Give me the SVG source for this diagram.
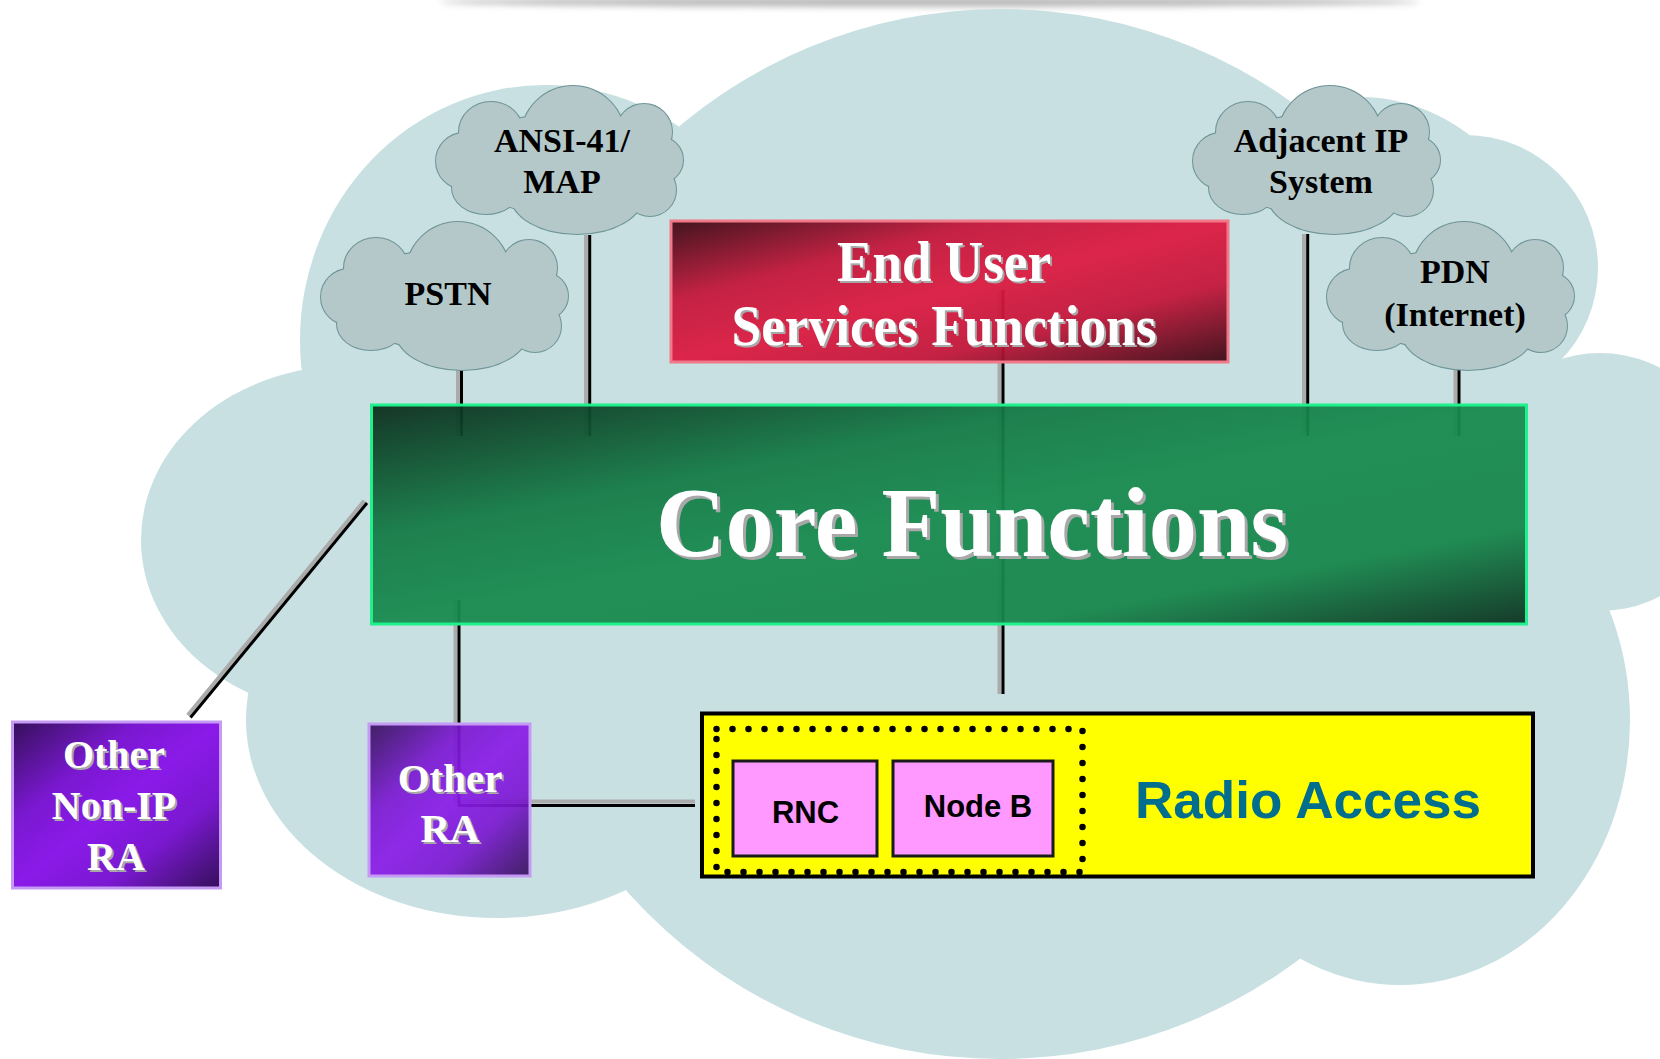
<svg xmlns="http://www.w3.org/2000/svg" xmlns:xlink="http://www.w3.org/1999/xlink" width="1660" height="1059" viewBox="0 0 1660 1059">
<defs>
<style>
.cl{fill:#B4C8CA;stroke:#6E9497;stroke-width:2}
.ci{fill:#B4C8CA;stroke:none}
.ct{font-family:"Liberation Serif","Times New Roman",serif;font-weight:bold;font-size:34px;fill:#000;text-anchor:middle}
.wt{font-family:"Liberation Serif","Times New Roman",serif;font-weight:bold;fill:#fff;text-anchor:middle}
.sh{font-family:"Liberation Serif","Times New Roman",serif;font-weight:bold;fill:#A8A8A8;text-anchor:middle}
.st{font-family:"Liberation Sans",Arial,sans-serif;font-weight:bold;text-anchor:middle}
.ln{fill:none;stroke:#000;stroke-width:3}
.lg{fill:none;stroke:#ABABAB;stroke-width:4}
.bg{fill:#C8E0E2}
</style>
<linearGradient id="gRed" x1="0" y1="0" x2="1" y2="1">
<stop offset="0" stop-color="#3a0812"/>
<stop offset="0.28" stop-color="#c3163a"/>
<stop offset="0.5" stop-color="#dc1a40"/>
<stop offset="0.72" stop-color="#c3163a"/>
<stop offset="1" stop-color="#3a0812"/>
</linearGradient>
<linearGradient id="gGreen" x1="0" y1="0" x2="1" y2="1">
<stop offset="0" stop-color="#0a2c1b"/>
<stop offset="0.3" stop-color="#137a45"/>
<stop offset="0.5" stop-color="#178a4e"/>
<stop offset="0.78" stop-color="#16864b"/>
<stop offset="1" stop-color="#0a301d"/>
</linearGradient>
<linearGradient id="gPurple" x1="0" y1="0" x2="1" y2="1">
<stop offset="0" stop-color="#35105a"/>
<stop offset="0.3" stop-color="#7a18d0"/>
<stop offset="0.5" stop-color="#8a1ae8"/>
<stop offset="0.72" stop-color="#7a18d0"/>
<stop offset="1" stop-color="#35105a"/>
</linearGradient>
<filter id="blur" x="-10%" y="-200%" width="120%" height="500%"><feGaussianBlur stdDeviation="3"/></filter>
<g id="cb">
<circle cx="28" cy="75" r="28"/>
<ellipse cx="55" cy="46" rx="32" ry="30"/>
<circle cx="137" cy="52" r="52"/>
<circle cx="208" cy="46" r="28"/>
<circle cx="224" cy="74" r="23"/>
<circle cx="214" cy="104" r="26"/>
<ellipse cx="141" cy="110" rx="66" ry="38"/>
<ellipse cx="50" cy="102" rx="34" ry="26"/>
<ellipse cx="125" cy="78" rx="100" ry="50"/>
</g>
<g id="cloudShape">
<use xlink:href="#cb" href="#cb" class="cl"/>
<use xlink:href="#cb" href="#cb" class="ci"/>
</g>
</defs>

<rect width="1660" height="1059" fill="#fff"/>
<ellipse cx="930" cy="2" rx="490" ry="5" fill="#777" opacity="0.5" filter="url(#blur)"/>

<g id="background-cloud" class="bg">
<circle cx="1001" cy="509" r="500"/>
<ellipse cx="545" cy="340" rx="245" ry="255"/>
<ellipse cx="1360" cy="330" rx="200" ry="233"/>
<circle cx="1465" cy="268" r="133"/>
<circle cx="1600" cy="482" r="129"/>
<ellipse cx="347" cy="540" rx="206" ry="174"/>
<ellipse cx="497" cy="720" rx="251" ry="198"/>
<circle cx="1000" cy="560" r="499"/>
<ellipse cx="1400" cy="720" rx="230" ry="265"/>
<rect x="400" y="350" width="1100" height="500"/>
</g>

<g id="connectors">
<path class="lg" d="M458 370V436"/><path class="ln" d="M461.5 370V436"/>
<path class="lg" d="M586 235V436"/><path class="ln" d="M589.7 235V436"/>
<path class="lg" d="M999.5 290V694"/><path class="ln" d="M1003 290V694"/>
<path class="lg" d="M1304 234V436"/><path class="ln" d="M1307.7 234V436"/>
<path class="lg" d="M1455.5 370V436"/><path class="ln" d="M1459 370V436"/>
<path class="lg" d="M455.5 600V801.5H695"/><path class="ln" d="M459 600V805.5H695"/>
<path class="lg" d="M364.3 500.8L187.8 715.3"/><path class="ln" d="M367 503L190.5 717.5"/>
</g>

<g id="pstn"><use xlink:href="#cloudShape" href="#cloudShape" transform="translate(321,222)"/>
<text class="ct" x="448" y="305">PSTN</text></g>
<g id="ansi41-map"><use xlink:href="#cloudShape" href="#cloudShape" transform="translate(436,86)"/>
<text class="ct" x="562" y="152">ANSI-41/</text><text class="ct" x="562" y="193">MAP</text></g>
<g id="adjacent-ip"><use xlink:href="#cloudShape" href="#cloudShape" transform="translate(1193,86)"/>
<text class="ct" x="1321" y="152">Adjacent IP</text><text class="ct" x="1321" y="193">System</text></g>
<g id="pdn"><use xlink:href="#cloudShape" href="#cloudShape" transform="translate(1327,222)"/>
<text class="ct" x="1455" y="283">PDN</text><text class="ct" x="1455" y="326">(Internet)</text></g>

<g id="end-user">
<rect x="671" y="221" width="557" height="141" fill="url(#gRed)" fill-opacity="0.94" stroke="#F07888" stroke-width="3"/>
<text class="sh" x="946" y="283" font-size="56" textLength="214" lengthAdjust="spacingAndGlyphs">End User</text>
<text class="wt" x="944" y="281" font-size="56" textLength="214" lengthAdjust="spacingAndGlyphs">End User</text>
<text class="sh" x="946" y="347" font-size="56" textLength="425" lengthAdjust="spacingAndGlyphs">Services Functions</text>
<text class="wt" x="944" y="345" font-size="56" textLength="425" lengthAdjust="spacingAndGlyphs">Services Functions</text>
</g>

<g id="core">
<rect x="371.5" y="405" width="1155" height="219" fill="url(#gGreen)" fill-opacity="0.94" stroke="#1EF08C" stroke-width="3"/>
<text class="sh" x="975" y="559" font-size="100" textLength="632" lengthAdjust="spacingAndGlyphs">Core Functions</text>
<text class="wt" x="972" y="556" font-size="100" textLength="632" lengthAdjust="spacingAndGlyphs">Core Functions</text>
</g>

<g id="other-non-ip-ra">
<rect x="12.5" y="722" width="208" height="166" fill="url(#gPurple)" stroke="#C49AF5" stroke-width="3"/>
<text class="sh" x="116" y="770" font-size="40">Other</text><text class="wt" x="114" y="768" font-size="40">Other</text>
<text class="sh" x="116" y="821" font-size="40">Non-IP</text><text class="wt" x="114" y="819" font-size="40">Non-IP</text>
<text class="sh" x="118" y="872" font-size="40">RA</text><text class="wt" x="116" y="870" font-size="40">RA</text>
</g>

<g id="other-ra">
<rect x="369" y="724" width="161" height="152" fill="url(#gPurple)" fill-opacity="0.92" stroke="#C49AF5" stroke-width="3"/>
<text class="sh" x="452" y="794" font-size="41">Other</text><text class="wt" x="450" y="792" font-size="41">Other</text>
<text class="sh" x="452" y="844" font-size="41">RA</text><text class="wt" x="450" y="842" font-size="41">RA</text>
</g>

<g id="radio-access">
<rect x="702" y="713.5" width="831" height="163" fill="#FFFF00" stroke="#000" stroke-width="4"/>
<rect x="716.5" y="729" width="366" height="143" fill="none" stroke="#000" stroke-width="6.5" stroke-linecap="round" stroke-dasharray="0 16"/>
<text class="st" x="1308" y="818" font-size="52" fill="#006E8C" textLength="346" lengthAdjust="spacingAndGlyphs">Radio Access</text>
</g>

<g id="rnc">
<rect x="733" y="761" width="144" height="95" fill="#FF99FF" stroke="#1a1a1a" stroke-width="3"/>
<text class="st" x="805.5" y="823" font-size="31" fill="#000">RNC</text>
</g>

<g id="node-b">
<rect x="893" y="761" width="160" height="95" fill="#FF99FF" stroke="#1a1a1a" stroke-width="3"/>
<text class="st" x="978" y="817" font-size="31" fill="#000">Node B</text>
</g>
</svg>
